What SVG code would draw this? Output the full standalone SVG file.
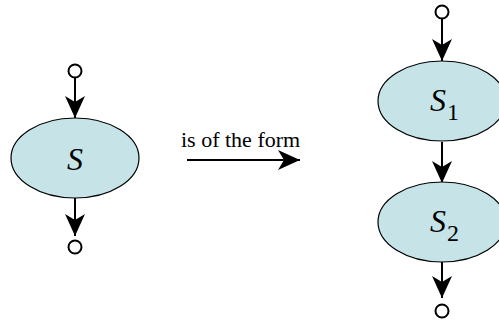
<svg xmlns="http://www.w3.org/2000/svg" width="499" height="320" viewBox="0 0 499 320">
  <defs>
    <marker id="arrow" viewBox="-24 -12 26 24" refX="0" refY="0" markerWidth="26" markerHeight="24" markerUnits="userSpaceOnUse" orient="auto">
      <path d="M0,0 L-22,-10 L-16,0 L-22,10 Z" fill="#000"/>
    </marker>
  </defs>
  <style>
    .stmt { fill: #c6e4e8; stroke: #000; stroke-width: 1.2; }
    .port { fill: #fff; stroke: #000; stroke-width: 2; }
    .edge { stroke: #000; stroke-width: 2; fill: none; marker-end: url(#arrow); }
  </style>

  <!-- connectors -->
  <g id="connectors">
    <line class="edge" x1="75" y1="78" x2="75" y2="118"/>
    <line class="edge" x1="75" y1="198" x2="75" y2="236"/>
    <line class="edge" x1="187" y1="160" x2="300" y2="160"/>
    <line class="edge" x1="442" y1="19" x2="442" y2="61"/>
    <line class="edge" x1="442" y1="142" x2="442" y2="183"/>
    <line class="edge" x1="442" y1="262" x2="442" y2="298"/>
  </g>

  <!-- left: single statement S -->
  <g id="port-s-in"><circle class="port" cx="75" cy="71" r="6.5"/></g>
  <g id="node-s">
    <ellipse class="stmt" cx="75" cy="158" rx="64" ry="40"/>
    <text x="75" y="170" text-anchor="middle" font-family="Liberation Serif, DejaVu Serif, serif" font-style="italic" font-size="32" fill="#000">S</text>
  </g>
  <g id="port-s-out"><circle class="port" cx="75" cy="247" r="6.5"/></g>

  <!-- transformation label -->
  <g id="label-form">
    <text x="181" y="147" font-family="Liberation Serif, DejaVu Serif, serif" font-size="22" fill="#000">is of the form</text>
  </g>

  <!-- right: sequence S1 ; S2 -->
  <g id="port-seq-in"><circle class="port" cx="442" cy="12" r="6.5"/></g>
  <g id="node-s1">
    <ellipse class="stmt" cx="442" cy="101" rx="64" ry="40"/>
    <text x="430" y="111" font-family="Liberation Serif, DejaVu Serif, serif" font-style="italic" font-size="32" fill="#000">S</text>
    <text x="447" y="120" font-family="Liberation Serif, DejaVu Serif, serif" font-size="24" fill="#000">1</text>
  </g>
  <g id="node-s2">
    <ellipse class="stmt" cx="442" cy="222" rx="64" ry="40"/>
    <text x="430" y="232" font-family="Liberation Serif, DejaVu Serif, serif" font-style="italic" font-size="32" fill="#000">S</text>
    <text x="447" y="241" font-family="Liberation Serif, DejaVu Serif, serif" font-size="24" fill="#000">2</text>
  </g>
  <g id="port-seq-out"><circle class="port" cx="442" cy="311" r="6.5"/></g>
</svg>
